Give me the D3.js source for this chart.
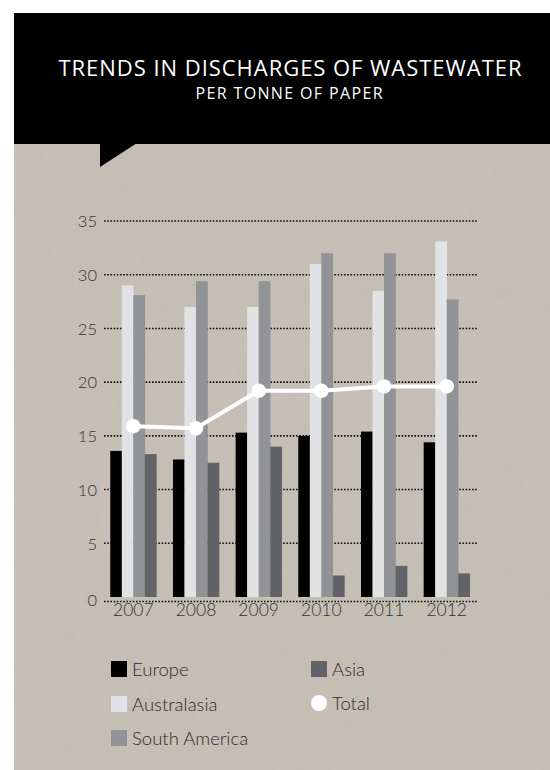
<!DOCTYPE html>
<html>
<head>
<meta charset="utf-8">
<script src="https://cdn.jsdelivr.net/npm/d3@7"></script>
<style>
  html, body { margin: 0; padding: 0; background: #ffffff; }
  svg { display: block; }
</style>
</head>
<body>
<svg id="chart" width="550" height="770"></svg>
<script>
const years = ["2007", "2008", "2009", "2010", "2011", "2012"];
const seriesNames = ["Europe", "Australasia", "South America", "Asia"];
const europe = [13.6, 12.8, 15.3, 15.0, 15.4, 14.4];
const australasia = [29.0, 27.0, 27.0, 31.0, 28.5, 33.1];
const southAmerica = [28.1, 29.4, 29.4, 32.0, 32.0, 27.7];
const asia = [13.3, 12.5, 14.0, 2.0, 2.9, 2.2];
const total = [15.9, 15.7, 19.2, 19.2, 19.6, 19.6];
const yTicks = [0, 5, 10, 15, 20, 25, 30, 35];
const titleText = "TRENDS IN DISCHARGES OF WASTEWATER";
const subtitleText = "PER TONNE OF PAPER";

const seriesValues = [europe, australasia, southAmerica, asia];
const colors = ["#000000", "#e1e2e4", "#929397", "#626366"];

const svg = d3.select("#chart");
const defs = svg.append("defs");
const filt = defs.append("filter").attr("id", "noise").attr("x", 0).attr("y", 0).attr("width", "100%").attr("height", "100%");
filt.append("feTurbulence").attr("type", "fractalNoise").attr("baseFrequency", 0.05).attr("numOctaves", 4).attr("seed", 7);
filt.append("feColorMatrix").attr("type", "matrix")
  .attr("values", "0 0 0 0 0.42  0 0 0 0 0.39  0 0 0 0 0.35  0 0 0 0.5 -0.1");

// background panel
svg.append("rect").attr("x", 14).attr("y", 144).attr("width", 536).attr("height", 626).attr("fill", "#c7c0b6");
svg.append("rect").attr("x", 14).attr("y", 144).attr("width", 536).attr("height", 626)
  .attr("filter", "url(#noise)").attr("opacity", 0.4);

// title box
svg.append("rect").attr("x", 14).attr("y", 13).attr("width", 536).attr("height", 131).attr("fill", "#000");
svg.append("path").attr("d", "M100,143 L137,143 L100,167 Z").attr("fill", "#000");
svg.append("text").attr("x", 290).attr("y", 76).attr("text-anchor", "middle")
  .attr("font-family", "'Open Sans', sans-serif").attr("font-size", 22).attr("fill", "#fff")
  .attr("textLength", 463).attr("lengthAdjust", "spacing")
  .text(titleText);
svg.append("text").attr("x", 289).attr("y", 99).attr("text-anchor", "middle")
  .attr("font-family", "'Open Sans', sans-serif").attr("font-size", 16).attr("fill", "#fff")
  .attr("textLength", 187).attr("lengthAdjust", "spacing")
  .text(subtitleText);

// scales
const y = d3.scaleLinear().domain([0, 35]).range([597, 221]);
const x = d3.scaleBand().domain(years).range([104, 476]).paddingInner(0.265).paddingOuter(0.1);
const inner = d3.scaleBand().domain(seriesNames).range([0, x.bandwidth()]);

// gridlines
const grid = svg.append("g");
grid.selectAll("line").data(yTicks).join("line")
  .attr("x1", 104).attr("x2", 477)
  .attr("y1", d => d === 0 ? y(d) + 4.5 : y(d))
  .attr("y2", d => d === 0 ? y(d) + 4.5 : y(d))
  .attr("stroke", "#111").attr("stroke-width", 1.6)
  .attr("stroke-dasharray", "1.6,1.6").attr("stroke-linecap", "butt");

// y axis labels
const yAxis = d3.axisLeft(y).tickValues(yTicks).tickSize(0).tickPadding(0);
const yg = svg.append("g").attr("transform", "translate(97,0)").call(yAxis);
yg.select(".domain").remove();
yg.selectAll("text").attr("font-family", "Lato, sans-serif").attr("font-weight", 300)
  .attr("font-size", 16.5).attr("fill", "#333").attr("dy", "0.35em");
yg.selectAll(".tick").filter(d => d === 0).select("text").attr("y", 3);

// bars
const groups = svg.append("g").selectAll("g").data(years).join("g")
  .attr("transform", d => `translate(${x(d)},0)`);
groups.selectAll("rect").data((d, i) => seriesNames.map((s, k) => ({s, v: seriesValues[k][i], c: colors[k]})))
  .join("rect")
  .attr("x", d => inner(d.s)).attr("width", inner.bandwidth() + 0.3)
  .attr("y", d => y(d.v)).attr("height", d => y(0) - y(d.v))
  .attr("fill", d => d.c);

// x axis labels
const xAxis = d3.axisBottom(x).tickSize(0).tickPadding(0);
const xg = svg.append("g").attr("transform", "translate(0,604)").call(xAxis);
xg.select(".domain").remove();
xg.selectAll("text").attr("font-family", "Lato, sans-serif").attr("font-weight", 300)
  .attr("font-size", 17.5).attr("fill", "#333").attr("dy", "0.71em");

// total line
const cx = d => x(d) + x.bandwidth() / 2;
const line = d3.line().x((d, i) => cx(years[i])).y(d => y(d));
svg.append("path").datum(total).attr("d", line).attr("fill", "none")
  .attr("stroke", "#fff").attr("stroke-width", 4);
svg.append("g").selectAll("circle").data(total).join("circle")
  .attr("cx", (d, i) => cx(years[i])).attr("cy", d => y(d)).attr("r", 7.3).attr("fill", "#fff");

// legend
const legendItems = [
  {name: "Europe", color: colors[0], type: "rect", x: 111, y: 661},
  {name: "Australasia", color: colors[1], type: "rect", x: 111, y: 696},
  {name: "South America", color: colors[2], type: "rect", x: 111, y: 730},
  {name: "Asia", color: colors[3], type: "rect", x: 311, y: 661},
  {name: "Total", color: "#fff", type: "circle", x: 311, y: 695}
];
const lg = svg.append("g").selectAll("g").data(legendItems).join("g")
  .attr("transform", d => `translate(${d.x},${d.y})`);
lg.filter(d => d.type === "rect").append("rect").attr("width", 16).attr("height", 16).attr("fill", d => d.color);
lg.filter(d => d.type === "circle").append("circle").attr("cx", 8).attr("cy", 8).attr("r", 8).attr("fill", d => d.color);
lg.append("text").attr("x", 21).attr("y", 14.5)
  .attr("font-family", "Lato, sans-serif").attr("font-weight", 300)
  .attr("font-size", 18.5).attr("fill", "#2b2b2b").text(d => d.name);
</script>
</body>
</html>
